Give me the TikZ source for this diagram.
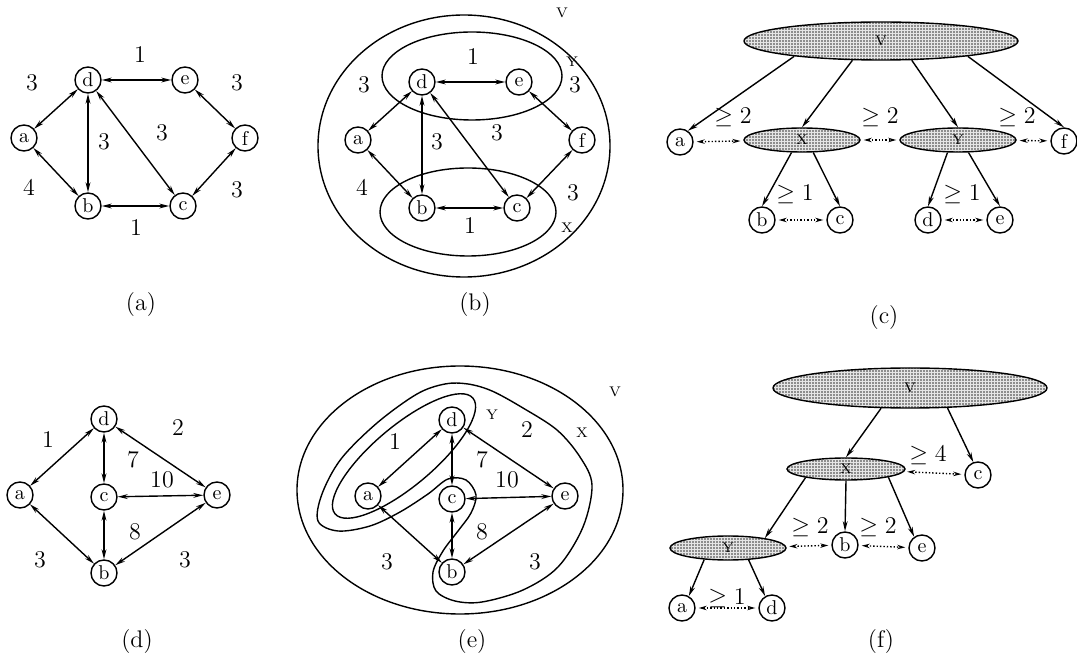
\documentclass[tikz,border=0pt]{standalone}
\usepackage{amsmath, amssymb}
\usepackage{tikz}
\usetikzlibrary{shapes,arrows.meta,positioning,calc,patterns.meta}

\begin{document}
\begin{tikzpicture}[
    x=0.5pt, y=-0.5pt,
    every node/.style={align=center},
    vnode/.style={draw, circle, line width=0.7pt, minimum size=13pt, inner sep=0pt, font=\normalsize},
    setnode/.style={draw, ellipse, line width=0.7pt, inner sep=0pt, font=\scriptsize,
        preaction={fill=gray!20}, pattern={Dots[distance=1.5pt, radius=0.42pt]}, pattern color=black!80},
    wlabel/.style={font=\large},
    setlabel/.style={font=\scriptsize},
    caption/.style={font=\large},
    biedge/.style={{Stealth[length=5pt, width=2.4pt]}-{Stealth[length=5pt, width=2.4pt]}, line width=0.7pt},
    treeedge/.style={-{Stealth[length=5pt, width=2.4pt]}, line width=0.7pt},
    cutedge/.style={{Stealth[length=4pt, width=2.2pt]}-{Stealth[length=4pt, width=2.2pt]}, densely dotted, line width=0.7pt, shorten >=1.5pt, shorten <=1.5pt},
    region/.style={line width=0.7pt}
]
    \useasboundingbox (0,0) rectangle (1077,662);

    % (a) the graph
    \node[vnode] (A-a) at (24,138) {a};
    \node[vnode] (A-d) at (88,80) {d};
    \node[vnode] (A-e) at (185,80) {e};
    \node[vnode] (A-f) at (245,138) {f};
    \node[vnode] (A-b) at (88,206) {b};
    \node[vnode] (A-c) at (183,206) {c};
    \draw[biedge] (A-a) -- (A-d);
    \draw[biedge] (A-d) -- (A-e);
    \draw[biedge] (A-e) -- (A-f);
    \draw[biedge] (A-d) -- (A-b);
    \draw[biedge] (A-d) -- (A-c);
    \draw[biedge] (A-a) -- (A-b);
    \draw[biedge] (A-b) -- (A-c);
    \draw[biedge] (A-c) -- (A-f);
    \node[wlabel] (A-l1) at (32,83) {3};
    \node[wlabel] (A-l2) at (140,55) {1};
    \node[wlabel] (A-l3) at (237,83) {3};
    \node[wlabel] (A-l4) at (104,142) {3};
    \node[wlabel] (A-l5) at (162,133) {3};
    \node[wlabel] (A-l6) at (29,187) {4};
    \node[wlabel] (A-l7) at (237,190) {3};
    \node[wlabel] (A-l8) at (136,228) {1};
    \node[caption] (capA) at (141,305) {(a)};

    % (b) the same graph with the sets V, Y and X
    \draw[region] (464,146) ellipse (146 and 131);
    \draw[region] (472,76) ellipse (90 and 44);
    \draw[region] (468,212) ellipse (88 and 44);
    \node[setlabel] (B-V) at (562,13) {V};
    \node[setlabel] (B-Y) at (572,62) {Y};
    \node[setlabel] (B-X) at (567,228) {X};
    \node[vnode] (B-a) at (358,140) {a};
    \node[vnode] (B-d) at (422,82) {d};
    \node[vnode] (B-e) at (519,82) {e};
    \node[vnode] (B-f) at (582,140) {f};
    \node[vnode] (B-b) at (422,208) {b};
    \node[vnode] (B-c) at (517,208) {c};
    \draw[biedge] (B-a) -- (B-d);
    \draw[biedge] (B-d) -- (B-e);
    \draw[biedge] (B-e) -- (B-f);
    \draw[biedge] (B-d) -- (B-b);
    \draw[biedge] (B-d) -- (B-c);
    \draw[biedge] (B-a) -- (B-b);
    \draw[biedge] (B-b) -- (B-c);
    \draw[biedge] (B-c) -- (B-f);
    \node[wlabel] (B-l1) at (364,85) {3};
    \node[wlabel] (B-l2) at (473,57) {1};
    \node[wlabel] (B-l3) at (575,85) {3};
    \node[wlabel] (B-l4) at (437,142) {3};
    \node[wlabel] (B-l5) at (497,133) {3};
    \node[wlabel] (B-l6) at (362,187) {4};
    \node[wlabel] (B-l7) at (573,193) {3};
    \node[wlabel] (B-l8) at (470,226) {1};
    \node[caption] (capB) at (475,305) {(b)};

    % (c) the tree of sets
    \node[setnode, minimum width=137pt, minimum height=19pt] (C-V) at (881,41) {V};
    \node[setnode, minimum width=58pt, minimum height=12pt] (C-X) at (802,140) {X};
    \node[setnode, minimum width=58pt, minimum height=12pt] (C-Y) at (958,140) {Y};
    \node[vnode] (C-a) at (680,142) {a};
    \node[vnode] (C-f) at (1064,141) {f};
    \node[vnode] (C-b) at (762,220) {b};
    \node[vnode] (C-c) at (840,220) {c};
    \node[vnode] (C-d) at (928,220) {d};
    \node[vnode] (C-e) at (1000,220) {e};
    \draw[treeedge] (C-V.190) -- (C-a.55);
    \draw[treeedge] (C-V.214) -- (C-X.north);
    \draw[treeedge] (C-V.328) -- (C-Y.north);
    \draw[treeedge] (C-V.350) -- (C-f.north);
    \draw[treeedge] (C-X.230) -- (C-b.north);
    \draw[treeedge] (C-X.312) -- (C-c.north);
    \draw[treeedge] (C-Y.230) -- (C-d.north);
    \draw[treeedge] (C-Y.310) -- (C-e.north);
    \draw[cutedge] (C-a) -- (C-X);
    \draw[cutedge] (C-X) -- (C-Y);
    \draw[cutedge] (C-Y) -- (C-f);
    \draw[cutedge] (C-b) -- (C-c);
    \draw[cutedge] (C-d) -- (C-e);
    \node[wlabel] (C-l1) at (733,117) {$\geq 2$};
    \node[wlabel] (C-l2) at (880,117) {$\geq 2$};
    \node[wlabel] (C-l3) at (1017,117) {$\geq 2$};
    \node[wlabel] (C-l4) at (795,194) {$\geq 1$};
    \node[wlabel] (C-l5) at (962,194) {$\geq 1$};
    \node[caption] (capC) at (884,318) {(c)};

    % (d) the second graph
    \node[vnode] (D-a) at (20,495) {a};
    \node[vnode] (D-d) at (104,419) {d};
    \node[vnode] (D-c) at (104,497) {c};
    \node[vnode] (D-e) at (217,495) {e};
    \node[vnode] (D-b) at (104,573) {b};
    \draw[biedge] (D-a) -- (D-d);
    \draw[biedge] (D-d) -- (D-c);
    \draw[biedge] (D-d) -- (D-e);
    \draw[biedge] (D-c) -- (D-e);
    \draw[biedge] (D-c) -- (D-b);
    \draw[biedge] (D-a) -- (D-b);
    \draw[biedge] (D-b) -- (D-e);
    \node[wlabel] (D-l1) at (48,440) {1};
    \node[wlabel] (D-l2) at (178,428) {2};
    \node[wlabel] (D-l3) at (133,460) {7};
    \node[wlabel] (D-l4) at (162,480) {10};
    \node[wlabel] (D-l5) at (135,532) {8};
    \node[wlabel] (D-l6) at (40,560) {3};
    \node[wlabel] (D-l7) at (185,560) {3};
    \node[caption] (capD) at (137,642) {(d)};

    % (e) the second graph with the sets V, X and Y
    \draw[region] (460,490) ellipse (163 and 124);
    \draw[region, rotate around={40:(404,456)}] (404,456) ellipse (90 and 30);
    \draw[region] plot[smooth cycle, tension=0.55] coordinates {
        (318,521) (338,531) (370,526) (400,512) (428,494) (448,479) (466,480)
        (476,495) (471,513) (458,531) (443,551) (433,572) (436,591) (455,601)
        (482,602) (523,590) (558,567) (583,527) (592,485) (580,457) (557,430)
        (523,408) (492,391) (468,384) (445,384) (417,394) (377,423) (341,459) (322,494)};
    \node[setlabel] (E-V) at (615,392) {V};
    \node[setlabel] (E-Y) at (492,415) {Y};
    \node[setlabel] (E-X) at (582,433) {X};
    \node[vnode, fill=white] (E-a) at (368,496) {a};
    \node[vnode, fill=white] (E-d) at (452,420) {d};
    \node[vnode, fill=white] (E-c) at (452,499) {c};
    \node[vnode, fill=white] (E-e) at (565,496) {e};
    \node[vnode, fill=white] (E-b) at (452,572) {b};
    \draw[biedge] (E-a) -- (E-d);
    \draw[biedge] (E-d) -- (E-c);
    \draw[biedge] (E-d) -- (E-e);
    \draw[biedge] (E-c) -- (E-e);
    \draw[biedge] (E-c) -- (E-b);
    \draw[biedge] (E-a) -- (E-b);
    \draw[biedge] (E-b) -- (E-e);
    \node[wlabel] (E-l1) at (395,442) {1};
    \node[wlabel] (E-l2) at (527,430) {2};
    \node[wlabel] (E-l3) at (482,460) {7};
    \node[wlabel] (E-l4) at (507,480) {10};
    \node[wlabel] (E-l5) at (482,532) {8};
    \node[wlabel] (E-l6) at (387,562) {3};
    \node[wlabel] (E-l7) at (535,562) {3};
    \node[caption] (capE) at (472,642) {(e)};

    % (f) the tree of sets
    \node[setnode, minimum width=137pt, minimum height=20pt] (F-V) at (910,388) {V};
    \node[setnode, minimum width=59pt, minimum height=11pt] (F-X) at (846,469) {X};
    \node[setnode, minimum width=58pt, minimum height=12pt] (F-Y) at (728,548) {Y};
    \node[vnode] (F-c) at (978,475) {c};
    \node[vnode] (F-b) at (845,545) {b};
    \node[vnode] (F-e) at (922,548) {e};
    \node[vnode] (F-a) at (682,608) {a};
    \node[vnode] (F-d) at (772,608) {d};
    \draw[treeedge] (F-V.215) -- (F-X.north);
    \draw[treeedge] (F-V.332) -- (F-c.110);
    \draw[treeedge] (F-X.192) -- (F-Y.15);
    \draw[treeedge] (F-X.south) -- (F-b.north);
    \draw[treeedge] (F-X.349) -- (F-e.125);
    \draw[treeedge] (F-Y.206) -- (F-a.60);
    \draw[treeedge] (F-Y.330) -- (F-d.120);
    \draw[cutedge] (F-X) -- (F-c);
    \draw[cutedge] (F-Y) -- (F-b);
    \draw[cutedge] (F-b) -- (F-e);
    \draw[cutedge] (F-a) -- (F-d);
    \node[wlabel] (F-l1) at (928,455) {$\geq 4$};
    \node[wlabel] (F-l2) at (810,527) {$\geq 2$};
    \node[wlabel] (F-l3) at (878,527) {$\geq 2$};
    \node[wlabel] (F-l4) at (727,598) {$\geq 1$};
    \node[caption] (capF) at (881,642) {(f)};
\end{tikzpicture}
\end{document}
